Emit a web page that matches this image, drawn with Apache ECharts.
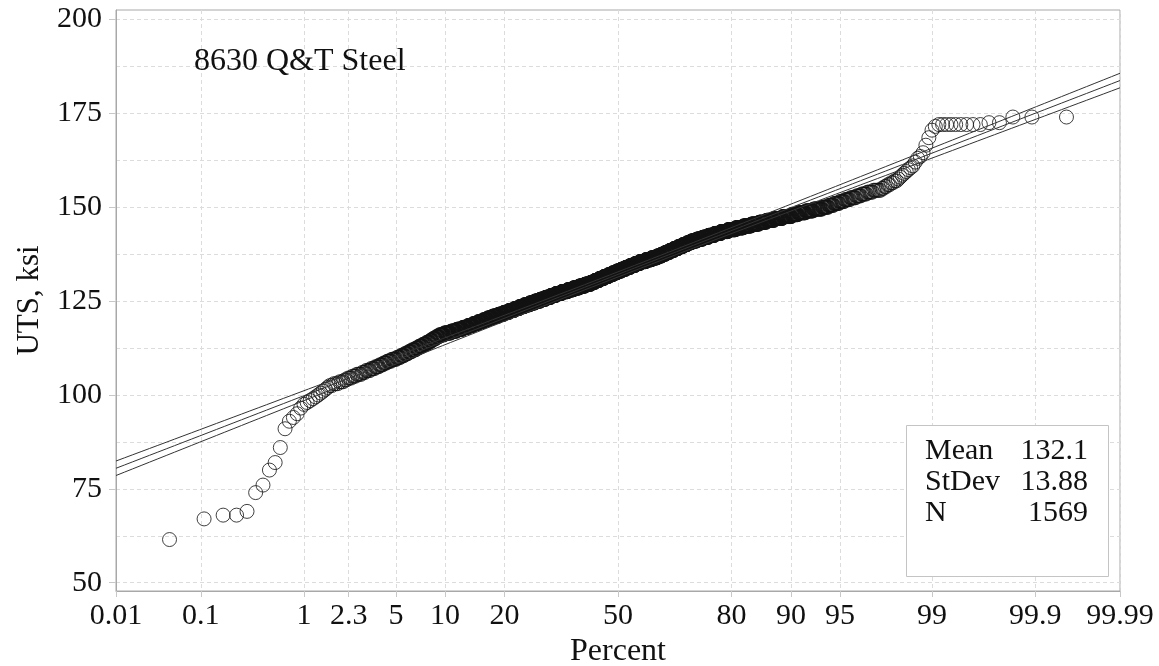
<!DOCTYPE html>
<html>
<head>
<meta charset="utf-8">
<script src="https://cdn.jsdelivr.net/npm/echarts@6/dist/echarts.min.js"></script>
<style>
  html, body { margin: 0; padding: 0; background: #fff; }
  #chart { width: 1159px; height: 666px; }
</style>
</head>
<body>
<div id="chart"></div>
<script>
// Ultimate tensile strength readings (ksi) and the number of specimens at each reading
const utsValues = [
  61.5, 67, 68, 69, 74, 76, 80, 82, 86, 91, 93, 94, 95, 96.5,
  97.5, 98, 98.5, 99, 99.5, 100, 100.5, 101, 101.5, 102,
  102.5, 103, 103.5, 104, 104.5, 105, 105.5, 106, 106.5, 107,
  107.5, 108, 108.5, 109, 109.5, 110, 110.5, 111, 111.5, 112,
  112.5, 113, 113.5, 114, 114.5, 115, 115.5, 116, 116.5, 117,
  117.5, 118, 118.5, 119, 119.5, 120, 120.5, 121, 121.5, 122,
  122.5, 123, 123.5, 124, 124.5, 125, 125.5, 126, 126.5, 127,
  127.5, 128, 128.5, 129, 129.5, 130, 130.5, 131, 131.5, 132,
  132.5, 133, 133.5, 134, 134.5, 135, 135.5, 136, 136.5, 137,
  137.5, 138, 138.5, 139, 139.5, 140, 140.5, 141, 141.5, 142,
  142.5, 143, 143.5, 144, 144.5, 145, 145.5, 146, 146.5, 147,
  147.5, 148, 148.5, 149, 149.5, 150, 150.5, 151, 151.5, 152,
  152.5, 153, 153.5, 154, 154.5, 155, 155.5, 156, 156.5, 157,
  157.5, 158, 158.5, 159, 159.5, 160, 160.5, 161, 162, 163,
  163.5, 164.5, 166.5, 168.5, 170.5, 171.5, 172, 172.5, 174
];
const utsCounts = [
  1, 1, 2, 1, 1, 1, 1, 1, 1, 1, 1, 1, 1, 1,
  1, 1, 1, 1, 1, 1, 1, 1, 1, 1,
  2, 3, 3, 2, 3, 3, 4, 3, 4, 4,
  4, 4, 4, 5, 6, 5, 5, 5, 5, 6,
  5, 6, 6, 6, 5, 6, 6, 10, 14, 13,
  14, 13, 13, 13, 14, 13, 15, 18, 17, 17,
  18, 17, 18, 20, 20, 21, 21, 21, 21, 24,
  26, 25, 26, 26, 26, 19, 20, 20, 21, 20,
  20, 21, 21, 21, 22, 21, 27, 26, 25, 20,
  18, 18, 18, 18, 18, 18, 17, 22, 23, 22,
  22, 22, 24, 25, 24, 23, 22, 19, 19, 19,
  19, 13, 14, 13, 14, 9, 7, 7, 6, 6,
  6, 5, 5, 5, 6, 2, 2, 2, 2, 2,
  1, 1, 1, 1, 1, 1, 1, 1, 1, 1,
  1, 1, 1, 1, 1, 1, 9, 2, 3
];

// Fitted normal distribution
const fitMean = 132.1;
const fitStDev = 13.88;

// Axis ticks
const percentTicks = ['0.01', '0.1', '1', '2.3', '5', '10', '20', '50', '80', '90', '95', '99', '99.9', '99.99'];
const utsTicks = [50, 75, 100, 125, 150, 175, 200];
const utsGridLines = [50, 62.5, 75, 87.5, 100, 112.5, 125, 137.5, 150, 162.5, 175, 187.5, 200];
const utsRange = [47.8, 202.5];

// Inverse standard normal CDF (Acklam's rational approximation)
function probit(p) {
  const a = [-3.969683028665376e+01, 2.209460984245205e+02, -2.759285104469687e+02,
             1.383577518672690e+02, -3.066479806614716e+01, 2.506628277459239e+00];
  const b = [-5.447609879822406e+01, 1.615858368580409e+02, -1.556989798598866e+02,
             6.680131188771972e+01, -1.328068155288572e+01];
  const c = [-7.784894002430293e-03, -3.223964580411365e-01, -2.400758277161838e+00,
             -2.549732539343734e+00, 4.374664141464968e+00, 2.938163982698783e+00];
  const d = [7.784695709041462e-03, 3.224671290700398e-01, 2.445134137142996e+00,
             3.754408661907416e+00];
  const pl = 0.02425, ph = 1 - pl;
  let q, r;
  if (p < pl) {
    q = Math.sqrt(-2 * Math.log(p));
    return (((((c[0] * q + c[1]) * q + c[2]) * q + c[3]) * q + c[4]) * q + c[5]) /
           ((((d[0] * q + d[1]) * q + d[2]) * q + d[3]) * q + 1);
  }
  if (p > ph) {
    q = Math.sqrt(-2 * Math.log(1 - p));
    return -(((((c[0] * q + c[1]) * q + c[2]) * q + c[3]) * q + c[4]) * q + c[5]) /
            ((((d[0] * q + d[1]) * q + d[2]) * q + d[3]) * q + 1);
  }
  q = p - 0.5;
  r = q * q;
  return (((((a[0] * r + a[1]) * r + a[2]) * r + a[3]) * r + a[4]) * r + a[5]) * q /
         (((((b[0] * r + b[1]) * r + b[2]) * r + b[3]) * r + b[4]) * r + 1);
}

// Percent axis is a normal-probability scale: positions are z-scores
const zTicks = percentTicks.map(t => probit(parseFloat(t) / 100));
const zMin = Math.min(...zTicks);
const zMax = Math.max(...zTicks);
function percentLabel(z) {
  for (let i = 0; i < zTicks.length; i++) {
    if (Math.abs(zTicks[i] - z) < 1e-6) return percentTicks[i];
  }
  return '';
}

// Sorted sample, plotted at median-rank plotting positions
const sorted = [];
utsValues.forEach((v, k) => { for (let j = 0; j < utsCounts[k]; j++) sorted.push(v); });
const sampleSize = sorted.length;
const samplePoints = sorted.map((v, i) => [probit((i + 1 - 0.3) / (sampleSize + 0.4)), v]);

// Fitted line and 95% confidence band on the percentiles
const fitLine = [], bandLow = [], bandHigh = [];
const steps = 120;
for (let s = 0; s <= steps; s++) {
  const z = zMin + (zMax - zMin) * s / steps;
  const y = fitMean + z * fitStDev;
  const se = fitStDev * Math.sqrt(1 / sampleSize + z * z / (2 * sampleSize));
  fitLine.push([z, y]);
  bandLow.push([z, y - 1.96 * se]);
  bandHigh.push([z, y + 1.96 * se]);
}

const serif = 'Liberation Serif, Times New Roman, serif';
const gridColor = '#dcdcdc';
const axisColor = '#a8a8a8';
const textColor = '#111';

const chart = echarts.init(document.getElementById('chart'), null, { renderer: 'canvas' });

const bandLine = (name, data) => ({
  name, type: 'line', data, showSymbol: false, silent: true,
  lineStyle: { color: '#333', width: 1 }, z: 3
});

// Summary box: label column on the left, values right-aligned
const statsLeft = 925, statsRight = 1088, statsTop = 436, statsRow = 31;
const statText = (text, x, row, align) => ({
  type: 'text', x, y: statsTop + row * statsRow, silent: true, z: 11, zlevel: 1,
  style: { text, font: '30px ' + serif, fill: textColor, align: align || 'left', verticalAlign: 'top' }
});

chart.setOption({
  animation: false,
  backgroundColor: '#fff',
  grid: {
    left: 116, right: 39, top: 10, bottom: 75,
    outerBoundsMode: 'none', containLabel: false,
    show: true, borderColor: axisColor, borderWidth: 1, backgroundColor: 'transparent'
  },
  xAxis: {
    type: 'value', min: zMin, max: zMax,
    name: 'Percent', nameLocation: 'middle', nameGap: 41,
    nameTextStyle: { fontFamily: serif, fontSize: 32, color: textColor },
    axisLine: { show: true, onZero: false, lineStyle: { color: axisColor, width: 1 } },
    axisTick: { show: true, customValues: zTicks, length: 6, lineStyle: { color: '#c8c8c8' } },
    axisLabel: {
      customValues: zTicks, formatter: percentLabel, margin: 10,
      fontFamily: serif, fontSize: 30, color: textColor
    },
    splitLine: { show: true, lineStyle: { color: gridColor, width: 1, type: [4, 3] } }
  },
  yAxis: [
    {
      type: 'value', min: utsRange[0], max: utsRange[1],
      name: 'UTS, ksi', nameLocation: 'middle', nameGap: 71,
      nameTextStyle: { fontFamily: serif, fontSize: 31, color: textColor },
      axisLine: { show: true, onZero: false, lineStyle: { color: axisColor, width: 1 } },
      axisTick: { show: true, customValues: utsTicks, length: 7, lineStyle: { color: '#c8c8c8' } },
      axisLabel: {
        customValues: utsTicks, margin: 14,
        fontFamily: serif, fontSize: 30, color: textColor
      },
      splitLine: { show: false }
    },
    {
      type: 'value', min: utsRange[0], max: utsRange[1], position: 'left',
      axisLine: { show: false, onZero: false },
      axisTick: { show: false, customValues: utsGridLines },
      axisLabel: { show: false },
      splitLine: { show: true, lineStyle: { color: gridColor, width: 1, type: [4, 3] } }
    }
  ],
  series: [
    {
      name: 'UTS', type: 'scatter', data: samplePoints,
      symbol: 'circle', symbolSize: 14, silent: true, z: 2,
      itemStyle: { color: 'rgba(0,0,0,0)', borderColor: '#111', borderWidth: 1 }
    },
    bandLine('Fit', fitLine),
    bandLine('Lower 95%', bandLow),
    bandLine('Upper 95%', bandHigh)
  ],
  graphic: [
    {
      type: 'text', left: 194, top: 46, z: 10, zlevel: 1,
      style: { text: '8630 Q&T Steel', font: '32px ' + serif, fill: textColor }
    },
    {
      type: 'rect', left: 906, top: 425, z: 10, zlevel: 1, silent: true,
      shape: { x: 0, y: 0, width: 202, height: 151 },
      style: { fill: '#fff', stroke: '#c4c4c4', lineWidth: 1 }
    },
    statText('Mean', statsLeft, 0),
    statText('StDev', statsLeft, 1),
    statText('N', statsLeft, 2),
    statText(fitMean.toFixed(1), statsRight, 0, 'right'),
    statText(fitStDev.toFixed(2), statsRight, 1, 'right'),
    statText(String(sampleSize), statsRight, 2, 'right')
  ]
});
</script>
</body>
</html>
